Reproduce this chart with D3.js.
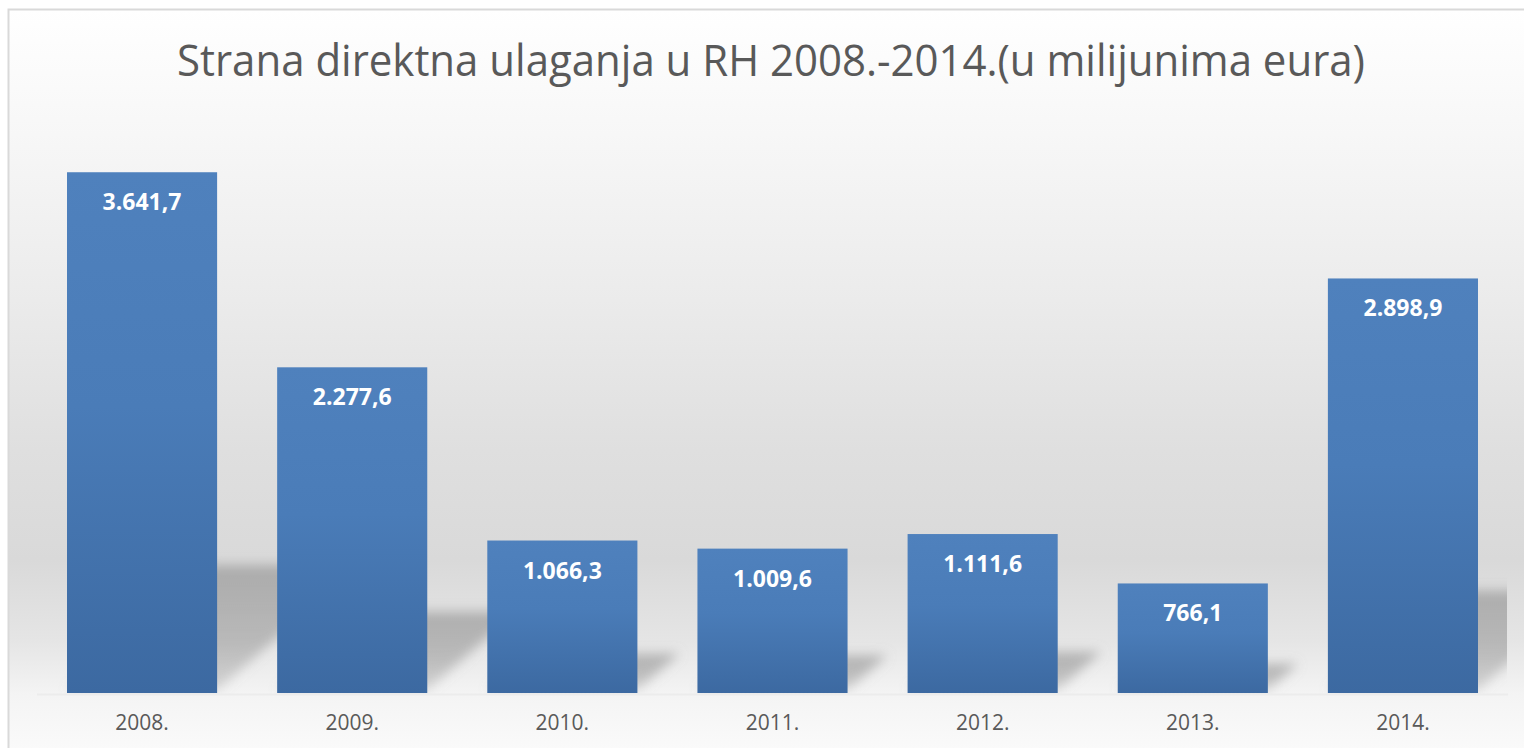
<!DOCTYPE html>
<html>
<head>
<meta charset="utf-8">
<script src="https://cdn.jsdelivr.net/npm/d3@7"></script>
<style>
  html, body { margin: 0; padding: 0; background: #ffffff; }
  svg { display: block; }
</style>
</head>
<body>
<script>

// Data
const years = ["2008.", "2009.", "2010.", "2011.", "2012.", "2013.", "2014."];
const values = [3641.7, 2277.6, 1066.3, 1009.6, 1111.6, 766.1, 2898.9];
const valueLabels = ["3.641,7", "2.277,6", "1.066,3", "1.009,6", "1.111,6", "766,1", "2.898,9"];
const chartTitle = "Strana direktna ulaganja u RH 2008.-2014.(u milijunima eura)";

const width = 1524;
const height = 748;
const marginLeft = 37;
const marginRight = 16;
const marginTop = 121;
const plotBottom = 693;

const svg = d3.select("body").append("svg")
    .attr("width", width)
    .attr("height", height)
    .attr("viewBox", [0, 0, width, height]);

const defs = svg.append("defs");

// chart background gradient (white -> grey -> white)
const bg = defs.append("linearGradient")
    .attr("id", "bg")
    .attr("gradientUnits", "userSpaceOnUse")
    .attr("x1", 0).attr("x2", 0).attr("y1", 9).attr("y2", 760);
[[9, "#ffffff"], [120, "#f8f8f8"], [300, "#ebebeb"], [450, "#dfdfdf"],
 [560, "#d9d9d9"], [640, "#e5e5e5"], [695, "#f4f4f4"], [760, "#fbfbfb"]]
    .forEach(([y, c]) => bg.append("stop")
        .attr("offset", ((y - 9) / (760 - 9)))
        .attr("stop-color", c));

// bar gradient
const barGrad = defs.append("linearGradient")
    .attr("id", "bargrad")
    .attr("x1", 0).attr("x2", 0).attr("y1", 0).attr("y2", 1);
barGrad.append("stop").attr("offset", 0).attr("stop-color", "#4f81bd");
barGrad.append("stop").attr("offset", 0.45).attr("stop-color", "#4a7cb8");
barGrad.append("stop").attr("offset", 1).attr("stop-color", "#3c69a1");

// shadow gradient - darker at the far (top) end
const shGrad = defs.append("linearGradient")
    .attr("id", "shgrad")
    .attr("x1", 0).attr("x2", 0).attr("y1", 0).attr("y2", 1);
shGrad.append("stop").attr("offset", 0).attr("stop-color", "#8c8c8c").attr("stop-opacity", 0.6);
shGrad.append("stop").attr("offset", 0.6).attr("stop-color", "#8c8c8c").attr("stop-opacity", 0.5);
shGrad.append("stop").attr("offset", 1).attr("stop-color", "#8c8c8c").attr("stop-opacity", 0.3);

// blur for shadows
defs.append("filter")
    .attr("id", "blur")
    .attr("x", "-20%").attr("y", "-20%").attr("width", "140%").attr("height", "140%")
  .append("feGaussianBlur")
    .attr("stdDeviation", 6);

defs.append("clipPath")
    .attr("id", "plotclip")
  .append("rect")
    .attr("x", marginLeft)
    .attr("y", marginTop - 30)
    .attr("width", width - marginRight - marginLeft - 1)
    .attr("height", plotBottom - marginTop + 32);

// chart area with border
svg.append("rect")
    .attr("x", 8.5)
    .attr("y", 9.5)
    .attr("width", 1530)
    .attr("height", 760)
    .attr("fill", "url(#bg)")
    .attr("stroke", "#d9d9d9")
    .attr("stroke-width", 2);

// scales
const x = d3.scaleBand()
    .domain(years)
    .range([marginLeft, width - marginRight])
    .paddingInner(0.2857)
    .paddingOuter(0.1428);

const y = d3.scaleLinear()
    .domain([0, 4000])
    .range([plotBottom, marginTop]);

const data = years.map((yr, i) => ({year: yr, value: values[i], label: valueLabels[i]}));

// perspective shadows behind the bars
const shadowRatio = 0.24;
const skew = 1.15;
svg.append("g")
    .attr("clip-path", "url(#plotclip)")
  .append("g")
    .attr("filter", "url(#blur)")
  .selectAll("path")
  .data(data)
  .join("path")
    .attr("fill", "url(#shgrad)")
    .attr("d", d => {
        const x0 = x(d.year);
        const x1 = x0 + x.bandwidth();
        const h = (y(0) - y(d.value)) * shadowRatio;
        const b = y(0) - 3;
        return `M${x0},${b}L${x1},${b}L${x1 + skew * h},${b - h}L${x0 + skew * h},${b - h}Z`;
    });

// bars
svg.append("g")
  .selectAll("rect")
  .data(data)
  .join("rect")
    .attr("x", d => x(d.year))
    .attr("y", d => y(d.value))
    .attr("width", x.bandwidth())
    .attr("height", d => y(0) - y(d.value))
    .attr("fill", "url(#bargrad)");

// faint base line
svg.append("line")
    .attr("x1", marginLeft)
    .attr("x2", width - marginRight)
    .attr("y1", plotBottom + 1.5)
    .attr("y2", plotBottom + 1.5)
    .attr("stroke", "#ececec")
    .attr("stroke-width", 2);

// value labels inside the bars
svg.append("g")
  .selectAll("text")
  .data(data)
  .join("text")
    .attr("x", d => x(d.year) + x.bandwidth() / 2)
    .attr("y", d => y(d.value) + 38)
    .attr("text-anchor", "middle")
    .attr("fill", "#ffffff")
    .attr("font-family", "'Open Sans', 'Noto Sans', sans-serif")
    .attr("font-weight", "bold")
    .attr("font-size", "23px")
    .text(d => d.label);

// x axis labels
const xAxis = svg.append("g")
    .attr("transform", `translate(0,${plotBottom})`)
    .call(d3.axisBottom(x).tickSize(0).tickPadding(0));
xAxis.select(".domain").remove();
xAxis.selectAll("text")
    .attr("y", 37)
    .attr("dy", 0)
    .attr("fill", "#595959")
    .attr("font-family", "'Open Sans', 'Noto Sans', sans-serif")
    .attr("font-size", "21px");

// title
const title = svg.append("text")
    .attr("x", 771)
    .attr("y", 76)
    .attr("text-anchor", "middle")
    .attr("fill", "#595959")
    .attr("font-family", "'Open Sans', 'Noto Sans', sans-serif")
    .attr("font-size", "44px")
    .text(chartTitle);
const tw = title.node().getComputedTextLength();
if (tw > 1188) {
    title.attr("textLength", 1188).attr("lengthAdjust", "spacingAndGlyphs");
}

</script>
</body>
</html>
